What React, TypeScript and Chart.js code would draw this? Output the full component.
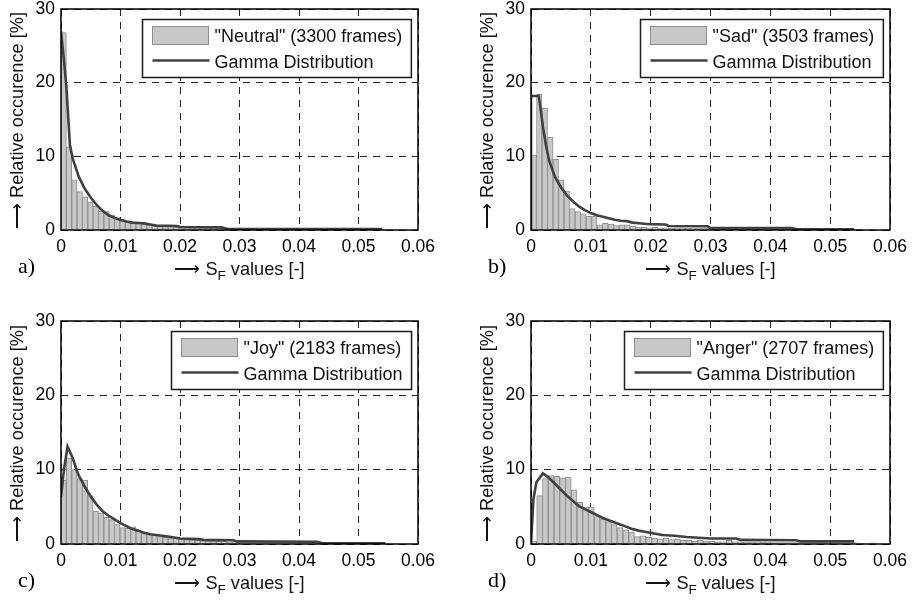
import React, { useEffect, useRef } from "react";
import { Chart, registerables } from "chart.js";
Chart.register(...registerables);

// ---------- data ----------
const X_TICKS = ["0", "0.01", "0.02", "0.03", "0.04", "0.05", "0.06"];
const Y_TICKS = ["0", "10", "20", "30"];
const PANEL_LETTERS = ["a)", "b)", "c)", "d)"];
const HIST_LABELS = [
  '"Neutral" (3300 frames)',
  '"Sad" (3503 frames)',
  '"Joy" (2183 frames)',
  '"Anger" (2707 frames)',
];
const LINE_LABEL = "Gamma Distribution";
const BIN_WIDTHS = [0.0009, 0.00092, 0.0009, 0.00096];

const neutralBins = [
  26.8, 11.3, 6.8, 5.2, 4.5, 3.8, 3.2, 2.6, 2.5, 2.0,
  1.7, 1.4, 1.2, 1.0, 1.0, 0.8, 0.7, 0.6, 0.6, 0.5,
  0.5, 0.4, 0.45, 0.4, 0.3, 0.35, 0.3, 0.3, 0.3, 0.25,
  0.3, 0.25, 0.2, 0.25, 0.2, 0.2, 0.2, 0.2, 0.15, 0.2,
  0.15, 0.2, 0.15, 0.15, 0.15, 0.15, 0.15, 0.15, 0.15, 0.15,
  0.15, 0.15, 0.15, 0.15, 0.15, 0.15, 0.15, 0.15, 0.15, 0.15,
];
const sadBins = [
  10.2, 18.4, 16.6, 12.6, 9.6, 6.8, 5.3, 2.9, 2.5, 2.2,
  1.9, 1.9, 0.7, 0.9, 0.8, 0.6, 0.7, 0.7, 0.5, 0.4,
  0.35, 0.3, 0.35, 0.3, 0.3, 0.25, 0.3, 0.3, 0.25, 0.3,
  0.25, 0.25, 0.3, 0.25, 0.25, 0.2, 0.25, 0.2, 0.25, 0.2,
  0.2, 0.2, 0.2, 0.2, 0.2, 0.2, 0.2, 0.2, 0.2, 0.2,
  0.2, 0.2, 0.2, 0.2, 0.2, 0.2, 0.2, 0.15, 0.1, 0.1,
];
const joyBins = [
  8.6, 11.6, 10.0, 8.8, 8.6, 6.5, 4.4, 4.2, 3.6, 3.3,
  2.6, 2.2, 2.1, 2.3, 1.7, 1.5, 1.3, 1.15, 1.0, 0.9,
  0.8, 0.75, 0.7, 0.6, 0.6, 0.55, 0.45, 0.4, 0.4, 0.35,
  0.35, 0.3, 0.3, 0.3, 0.3, 0.25, 0.3, 0.25, 0.25, 0.2,
  0.25, 0.2, 0.2, 0.2, 0.2, 0.2, 0.2, 0.15, 0.2, 0.15,
  0.15, 0.15, 0.15, 0.15, 0.15, 0.15, 0.15, 0.15, 0.1, 0.1,
];
const angerBins = [
  0.4, 6.5, 8.8, 9.2, 9.1, 8.9, 9.0, 7.3, 5.6, 5.0,
  5.0, 3.7, 3.4, 3.0, 2.6, 2.2, 1.9, 1.6, 1.0, 1.1,
  0.9, 0.8, 0.7, 0.8, 0.6, 0.7, 0.5, 0.5, 0.4, 0.5,
  0.4, 0.4, 0.3, 0.3, 0.5, 0.3, 0.3, 0.3, 0.3, 0.3,
  0.25, 0.2, 0.2, 0.2, 0.2, 0.2, 0.2, 0.2, 0.2, 0.2,
  0.2, 0.2, 0.2, 0.2, 0.2, 0.15, 0.15, 0.1, 0, 0.15,
];

const neutralGamma: [number, number][] = [
  [0, 27], [0.0005, 23], [0.0009, 19.5], [0.0015, 11.5], [0.002, 9.6], [0.003, 7.2],
  [0.004, 5.6], [0.005, 4.4], [0.006, 3.4], [0.007, 2.6], [0.008, 2.0], [0.009, 1.65],
  [0.01, 1.35], [0.011, 1.15], [0.012, 1.0], [0.013, 0.95], [0.014, 0.9], [0.015, 0.75],
  [0.016, 0.6], [0.0195, 0.55], [0.02, 0.4], [0.027, 0.35], [0.028, 0.12], [0.054, 0.12],
];
const sadGamma: [number, number][] = [
  [0, 0], [0, 18.2], [0.0013, 18.2], [0.002, 14], [0.0025, 11.5], [0.003, 9.5],
  [0.004, 7.2], [0.005, 5.8], [0.006, 4.7], [0.007, 3.9], [0.008, 3.2], [0.009, 2.7],
  [0.01, 2.3], [0.011, 2.0], [0.012, 1.8], [0.013, 1.6], [0.014, 1.4], [0.015, 1.25],
  [0.016, 1.2], [0.017, 1.0], [0.019, 0.85], [0.02, 0.8], [0.0225, 0.75], [0.023, 0.55],
  [0.0295, 0.5], [0.03, 0.25], [0.0435, 0.25], [0.0445, 0.1], [0.054, 0.1],
];
const joyGamma: [number, number][] = [
  [0, 6.3], [0.0005, 10], [0.0011, 13.1], [0.002, 11.5], [0.0026, 10], [0.003, 9.2],
  [0.004, 7.7], [0.005, 6.4], [0.006, 5.3], [0.007, 4.4], [0.008, 3.8], [0.009, 3.3],
  [0.01, 2.8], [0.011, 2.4], [0.012, 2.0], [0.013, 1.8], [0.014, 1.5], [0.015, 1.3],
  [0.016, 1.2], [0.017, 1.1], [0.018, 1.0], [0.02, 0.75], [0.023, 0.65], [0.024, 0.55],
  [0.029, 0.5], [0.0295, 0.35], [0.043, 0.3], [0.044, 0.1], [0.0545, 0.1],
];
const angerGamma: [number, number][] = [
  [0, 0], [0.0004, 6], [0.0009, 8.3], [0.002, 9.5], [0.003, 8.9], [0.004, 8.1],
  [0.005, 7.3], [0.006, 6.5], [0.007, 5.8], [0.008, 5.1], [0.009, 4.7], [0.01, 4.3],
  [0.011, 3.9], [0.012, 3.5], [0.013, 3.2], [0.014, 2.9], [0.015, 2.6], [0.016, 2.3],
  [0.017, 2.0], [0.018, 1.8], [0.019, 1.65], [0.02, 1.5], [0.021, 1.35], [0.022, 1.2],
  [0.024, 1.1], [0.026, 0.95], [0.028, 0.85], [0.03, 0.75], [0.0343, 0.75], [0.035, 0.55],
  [0.0443, 0.5], [0.045, 0.35], [0.054, 0.35],
];

const ALL_BINS = [neutralBins, sadBins, joyBins, angerBins];
const ALL_GAMMA = [neutralGamma, sadGamma, joyGamma, angerGamma];

// ---------- style ----------
const FAMILY = '"Liberation Sans", Arial, sans-serif';
const SERIF = '"Liberation Serif", "Times New Roman", serif';
const FS = 17.5;
const FS_TITLE = 18.2;
const FS_LEGEND = 18;
const BAR_FILL = "#c8c8c8";
const BAR_EDGE = "#8e8e8e";
const LINE_COLOR = "#404040";

type Layout = { left: number; top: number; w: number; h: number; padTop: number; padRight: number; xAxisH: number };
const LAYOUTS: Layout[] = [
  { left: 0, top: 0, w: 456, h: 300, padTop: 9, padRight: 38, xAxisH: 70 },
  { left: 470, top: 0, w: 443, h: 300, padTop: 9, padRight: 23, xAxisH: 70 },
  { left: 0, top: 312, w: 456, h: 290, padTop: 9, padRight: 38, xAxisH: 58 },
  { left: 470, top: 312, w: 443, h: 290, padTop: 9, padRight: 23, xAxisH: 58 },
];

function Panel({ idx }: { idx: number }) {
  const ref = useRef<HTMLCanvasElement>(null);
  const lay = LAYOUTS[idx];
  useEffect(() => {
    const bins = ALL_BINS[idx];
    const bw = BIN_WIDTHS[idx];
    const bars = bins
      .map((v, i) => ({ x: (i + 0.5) * bw, y: v }))
      .filter((p) => p.y > 0);
    const gamma = ALL_GAMMA[idx].map(([x, y]) => ({ x, y }));
    const histLabel = HIST_LABELS[idx];
    const letter = PANEL_LETTERS[idx];

    const decor = {
      id: "decor",
      afterDraw(chart: any) {
        const { ctx, chartArea: a } = chart;
        ctx.save();
        ctx.setLineDash([]);
        // frame
        ctx.strokeStyle = "#000";
        ctx.lineWidth = 1.5;
        ctx.strokeRect(a.left, a.top, a.right - a.left, a.bottom - a.top);
        // legend
        ctx.font = `${FS_LEGEND}px ${FAMILY}`;
        const tw = Math.max(ctx.measureText(histLabel).width, ctx.measureText(LINE_LABEL).width);
        const w = 10 + 56 + 6 + tw + 9;
        const h = 58;
        const x0 = Math.round(a.right - 7 - w) + 0.5;
        const y0 = Math.round(a.top + 10) + 0.5;
        ctx.fillStyle = "#fff";
        ctx.fillRect(x0, y0, w, h);
        ctx.strokeStyle = "#1a1a1a";
        ctx.lineWidth = 1.5;
        ctx.strokeRect(x0, y0, w, h);
        ctx.fillStyle = BAR_FILL;
        ctx.fillRect(x0 + 10, y0 + 7, 56, 18);
        ctx.strokeStyle = BAR_EDGE;
        ctx.lineWidth = 1;
        ctx.strokeRect(x0 + 10, y0 + 7, 56, 18);
        ctx.strokeStyle = LINE_COLOR;
        ctx.lineWidth = 2.6;
        ctx.beginPath();
        ctx.moveTo(x0 + 10, y0 + 41);
        ctx.lineTo(x0 + 67, y0 + 41);
        ctx.stroke();
        ctx.fillStyle = "#111";
        ctx.textAlign = "left";
        ctx.textBaseline = "middle";
        ctx.fillText(histLabel, x0 + 72, y0 + 18);
        ctx.fillText(LINE_LABEL, x0 + 72, y0 + 44);
        // y title
        ctx.font = `${FS_TITLE}px ${FAMILY}`;
        ctx.save();
        ctx.translate(18, (a.top + a.bottom) / 2 + 1);
        ctx.rotate(-Math.PI / 2);
        ctx.textAlign = "center";
        ctx.fillText("\u27F6 Relative occurence [%]", 0, 0);
        ctx.restore();
        // x title with subscript
        const p1 = "\u27F6 S";
        const p2 = "F";
        const p3 = " values [-]";
        ctx.font = `${FS_TITLE}px ${FAMILY}`;
        const w1 = ctx.measureText(p1).width;
        const w3 = ctx.measureText(p3).width;
        ctx.font = `13.5px ${FAMILY}`;
        const w2 = ctx.measureText(p2).width;
        const total = w1 + w2 + w3;
        const xs = (a.left + a.right) / 2 - total / 2;
        const yt = a.bottom + 40;
        ctx.textAlign = "left";
        ctx.font = `${FS_TITLE}px ${FAMILY}`;
        ctx.fillText(p1, xs, yt);
        ctx.font = `13.5px ${FAMILY}`;
        ctx.fillText(p2, xs + w1, yt + 6);
        ctx.font = `${FS_TITLE}px ${FAMILY}`;
        ctx.fillText(p3, xs + w1 + w2, yt);
        // panel letter
        ctx.font = `22px ${SERIF}`;
        ctx.fillStyle = "#000";
        ctx.fillText(letter, 18, a.bottom + 37);
        ctx.restore();
      },
    };

    const chart = new Chart(ref.current as HTMLCanvasElement, {
      type: "bar",
      data: {
        datasets: [
          {
            type: "line",
            label: LINE_LABEL,
            data: gamma,
            borderColor: LINE_COLOR,
            borderWidth: 2.6,
            pointRadius: 0,
            tension: 0,
            fill: false,
            order: 1,
          } as any,
          {
            type: "bar",
            label: histLabel,
            data: bars,
            backgroundColor: BAR_FILL,
            borderColor: BAR_EDGE,
            borderWidth: 1,
            barPercentage: 1,
            categoryPercentage: 1,
            order: 2,
          } as any,
        ],
      },
      options: {
        animation: false,
        responsive: false,
        maintainAspectRatio: false,
        layout: { padding: { top: lay.padTop, right: lay.padRight, left: 0, bottom: 0 } },
        plugins: { legend: { display: false }, tooltip: { enabled: false } },
        scales: {
          x: {
            type: "linear",
            min: 0,
            max: 0.06,
            offset: false,
            grid: { offset: false, color: "#222", lineWidth: 1, drawTicks: false },
            border: { display: false, dash: [7, 6] },
            ticks: {
              stepSize: 0.01,
              autoSkip: false,
              maxRotation: 0,
              padding: 8,
              color: "#000",
              font: { family: FAMILY, size: FS, lineHeight: 1 },
              callback: (v: any) => X_TICKS[Math.round(Number(v) * 100)] ?? "",
            },
            afterFit: (s: any) => {
              s.height = lay.xAxisH;
              s.paddingLeft = 0;
              s.paddingRight = 0;
              s.paddingTop = 0;
              s.paddingBottom = 0;
            },
          },
          y: {
            type: "linear",
            min: 0,
            max: 30,
            grid: { color: "#222", lineWidth: 1, drawTicks: false },
            border: { display: false, dash: [7, 6] },
            ticks: {
              stepSize: 10,
              padding: 6,
              color: "#000",
              font: { family: FAMILY, size: FS, lineHeight: 1 },
              callback: (v: any) => Y_TICKS[Math.round(Number(v) / 10)] ?? "",
            },
            afterFit: (s: any) => {
              s.width = 61;
              s.paddingLeft = 0;
              s.paddingRight = 0;
              s.paddingTop = 0;
              s.paddingBottom = 0;
            },
          },
        },
      } as any,
      plugins: [decor],
    });
    return () => chart.destroy();
  }, [idx]);
  return (
    <canvas
      ref={ref}
      width={lay.w}
      height={lay.h}
      style={{ position: "absolute", left: lay.left, top: lay.top, width: lay.w, height: lay.h }}
    />
  );
}

export default function App() {
  return (
    <div style={{ position: "absolute", left: 0, top: 0, width: 913, height: 602, background: "#fff" }}>
      {[0, 1, 2, 3].map((i) => (
        <Panel key={i} idx={i} />
      ))}
    </div>
  );
}
